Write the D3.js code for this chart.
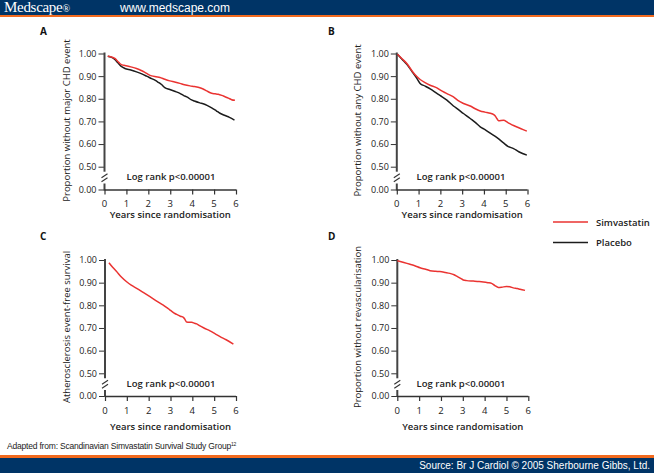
<!DOCTYPE html>
<html><head><meta charset="utf-8">
<script src="https://cdn.jsdelivr.net/npm/d3@7/dist/d3.min.js"></script>
<style>
body{margin:0;padding:0;background:#fff;}
svg{display:block;}
text{font-family:"Open Sans",sans-serif;}
</style></head>
<body>
<svg id="chart" width="654" height="473"></svg>
<script>
// ---------- DATA ----------
const seriesNames = ["Simvastatin", "Placebo"];
const xTicks = [0, 1, 2, 3, 4, 5, 6];
const yTicks = [0.00, 0.50, 0.60, 0.70, 0.80, 0.90, 1.00];
const panelLetters = ["A", "B", "C", "D"];
const yTitles = ["Proportion without major CHD event", "Proportion without any CHD event",
  "Atherosclerosis event-free survival", "Proportion without revascularisation"];
const xTitle = "Years since randomisation";
const pText = "Log rank p<0.00001";

// Panel A
const aSimYears = [0.15,0.3,0.47,0.6,0.7,0.8,0.93,1.2,1.46,1.7,1.92,2.15,2.35,2.53,2.75,2.98,3.2,3.44,3.65,3.9,4.1,4.35,4.5,4.66,4.89,5.05,5.19,5.35,5.5,5.65,5.8,5.95];
const aSimVals  = [0.988,0.985,0.978,0.966,0.956,0.950,0.947,0.941,0.934,0.924,0.912,0.901,0.897,0.894,0.886,0.879,0.874,0.868,0.862,0.857,0.854,0.849,0.843,0.835,0.824,0.822,0.820,0.815,0.809,0.803,0.796,0.793];
const aPlaYears = [0.15,0.3,0.47,0.6,0.75,0.93,1.2,1.46,1.7,1.92,2.15,2.3,2.45,2.6,2.75,2.98,3.2,3.44,3.6,3.8,3.95,4.1,4.35,4.5,4.7,4.89,5.1,5.27,5.5,5.7,5.93];
const aPlaVals  = [0.988,0.984,0.974,0.960,0.944,0.934,0.927,0.919,0.910,0.900,0.889,0.882,0.873,0.863,0.849,0.841,0.833,0.824,0.815,0.806,0.796,0.790,0.782,0.778,0.770,0.760,0.747,0.736,0.726,0.718,0.706];
// Panel B
const bSimYears = [0.03,0.25,0.46,0.7,0.92,1.07,1.3,1.53,1.84,2.0,2.3,2.6,2.8,3.06,3.37,3.6,3.83,4.05,4.29,4.45,4.52,4.6,4.67,4.9,5.1,5.36,5.6,5.8,5.97];
const bSimVals  = [0.997,0.976,0.956,0.923,0.898,0.885,0.871,0.860,0.848,0.838,0.823,0.808,0.793,0.779,0.768,0.756,0.746,0.741,0.736,0.730,0.724,0.712,0.703,0.705,0.695,0.682,0.672,0.664,0.657];
const bPlaYears = [0.03,0.25,0.46,0.7,0.92,1.07,1.3,1.53,1.84,2.0,2.3,2.6,2.8,3.06,3.37,3.6,3.83,4.05,4.29,4.6,4.9,5.1,5.36,5.6,5.8,5.97];
const bPlaVals  = [0.997,0.974,0.952,0.920,0.890,0.868,0.856,0.844,0.824,0.814,0.794,0.768,0.754,0.735,0.713,0.696,0.676,0.664,0.648,0.628,0.605,0.590,0.580,0.566,0.557,0.551];
// Panel C
const cSimYears = [0.18,0.35,0.53,0.75,0.99,1.2,1.45,1.75,2.06,2.35,2.67,2.85,2.98,3.15,3.28,3.45,3.59,3.66,3.74,3.85,3.97,4.1,4.2,4.35,4.55,4.81,5.05,5.27,5.55,5.88];
const cSimVals  = [0.988,0.968,0.949,0.925,0.904,0.889,0.875,0.857,0.838,0.820,0.801,0.789,0.779,0.767,0.760,0.752,0.747,0.738,0.726,0.725,0.725,0.721,0.718,0.709,0.699,0.687,0.674,0.662,0.648,0.629];
// Panel D
const dSimYears = [0.0,0.3,0.58,0.8,1.04,1.3,1.5,1.75,1.95,2.2,2.41,2.6,2.72,2.9,3.02,3.18,3.48,3.75,3.94,4.15,4.32,4.47,4.63,4.78,5.0,5.15,5.31,5.5,5.62,5.85];
const dSimVals  = [0.997,0.989,0.981,0.975,0.966,0.959,0.953,0.950,0.949,0.945,0.941,0.935,0.929,0.919,0.912,0.909,0.907,0.905,0.903,0.900,0.897,0.887,0.879,0.880,0.883,0.882,0.877,0.874,0.871,0.866];

// ---------- LAYOUT ----------
const svg = d3.select("#chart");
const navy = "#003466", orange = "#f26a1e";
const red = "#ea3331", black = "#1c1c1c";

// header
svg.append("rect").attr("x",0).attr("y",0).attr("width",654).attr("height",15).attr("fill",navy);
svg.append("rect").attr("x",0).attr("y",15).attr("width",654).attr("height",2).attr("fill",orange);
svg.append("text").attr("x",4).attr("y",12).attr("fill","#fff")
  .style("font-family","'Liberation Serif',serif").style("font-size","15px").style("letter-spacing","-0.3px")
  .text("Medscape").append("tspan").style("font-size","10px").text("®");
svg.append("text").attr("x",120).attr("y",12).attr("fill","#fff")
  .style("font-family","'Liberation Sans',Arial,sans-serif").style("font-size","12px").text("www.medscape.com");

// footer
svg.append("rect").attr("x",0).attr("y",455).attr("width",654).attr("height",3).attr("fill",orange);
svg.append("rect").attr("x",0).attr("y",458).attr("width",654).attr("height",15).attr("fill",navy);
svg.append("text").attr("x",650).attr("y",469).attr("text-anchor","end").attr("fill","#fff")
  .style("font-family","'Liberation Sans',Arial,sans-serif").style("font-size","10px")
  .text("Source: Br J Cardiol © 2005 Sherbourne Gibbs, Ltd.");
const ad = svg.append("text").attr("x",7).attr("y",449).attr("fill","#222")
  .style("font-family","'Liberation Sans',Arial,sans-serif").style("font-size","8.5px").style("letter-spacing","-0.2px")
  .text("Adapted from: Scandinavian Simvastatin Survival Study Group");
ad.append("tspan").attr("dy",-3).style("font-size","5px").text("12");

const panels = [
  {x0:104.5, x6:236, y100:53.5, y50:166.7, y0:189.5, lx:40, ly:35, ytx:66.5, tickY:203, titleY:218, pY:180, pX:171,
   series:[{years:aSimYears, vals:aSimVals, color:red},{years:aPlaYears, vals:aPlaVals, color:black}]},
  {x0:396.8, x6:527.5, y100:53.5, y50:166.7, y0:189.5, lx:328, ly:35, ytx:357, tickY:203, titleY:218, pY:180, pX:461,
   series:[{years:bSimYears, vals:bSimVals, color:red},{years:bPlaYears, vals:bPlaVals, color:black}]},
  {x0:105, x6:236, y100:260, y50:373.3, y0:396, lx:40, ly:240, ytx:66.5, tickY:410, titleY:430, pY:387, pX:171,
   series:[{years:cSimYears, vals:cSimVals, color:red}]},
  {x0:397.3, x6:528.3, y100:260, y50:373.3, y0:396, lx:328, ly:240, ytx:357, tickY:410, titleY:430, pY:387, pX:461,
   series:[{years:dSimYears, vals:dSimVals, color:red}]}
];

panels.forEach((p, i) => {
  const g = svg.append("g");
  const x = d3.scaleLinear().domain([0, 6]).range([p.x0, p.x6]);
  const y = d3.scaleLinear().domain([0, 0.5, 1.0]).range([p.y0, p.y50, p.y100]);

  g.append("text").attr("x", p.lx).attr("y", p.ly).style("font-size","10px").style("font-weight","700")
    .attr("fill","#111").text(panelLetters[i]);

  const yAxis = d3.axisLeft(y).tickValues(yTicks).tickFormat(d3.format(".2f")).tickSize(6).tickPadding(2);
  const ya = g.append("g").attr("transform",`translate(${p.x0},0)`).call(yAxis);
  ya.select(".domain").remove();
  ya.selectAll(".tick line").attr("stroke","#333").attr("stroke-width",1);
  ya.selectAll(".tick text").style("font-size","9px").style("font-family","'Open Sans',sans-serif").attr("fill","#222");
  g.append("line").attr("x1",p.x0).attr("x2",p.x0).attr("y1",y(1.0)-1).attr("y2",y(0.5)+5)
    .attr("stroke","#444").attr("stroke-width",2);
  g.append("line").attr("x1",p.x0).attr("x2",p.x0).attr("y1",y(0)-6).attr("y2",y(0)+1)
    .attr("stroke","#444").attr("stroke-width",2);
  const bm = y(0.5) + 11;
  [-2, 2].forEach(o => {
    g.append("line").attr("x1",p.x0-3).attr("x2",p.x0+3).attr("y1",bm+o+2).attr("y2",bm+o-2)
      .attr("stroke","#333").attr("stroke-width",1.1);
  });

  const xAxis = d3.axisBottom(x).tickValues(xTicks).tickFormat(d3.format("d")).tickSize(5).tickPadding(2);
  const xa = g.append("g").attr("transform",`translate(0,${p.y0})`).call(xAxis);
  xa.select(".domain").attr("stroke","#333").attr("stroke-width",1.5).attr("d",`M${p.x0},0.5H${p.x6}`);
  xa.selectAll(".tick line").attr("stroke","#333").attr("stroke-width",1.2);
  xa.selectAll(".tick text").remove();
  g.selectAll(".xtl").data(xTicks).enter().append("text")
    .attr("x", d => x(d)).attr("y", p.tickY).attr("text-anchor","middle").attr("dominant-baseline","central")
    .style("font-size","9.5px").attr("fill","#222").text(d => d);

  g.append("text").attr("x",(p.x0+p.x6)/2).attr("y",p.titleY).attr("text-anchor","middle")
    .style("font-size","9.5px").style("font-weight","600").attr("fill","#222").text(xTitle);
  g.append("text").attr("transform",`translate(${p.ytx},${(p.y100+p.y0)/2 - 1}) rotate(-90)`)
    .attr("text-anchor","middle").attr("dominant-baseline","central")
    .style("font-size","9.5px").attr("fill","#222").text(yTitles[i]);
  g.append("text").attr("x",p.pX).attr("y",p.pY).attr("text-anchor","middle")
    .style("font-size","9.5px").style("font-weight","600").attr("fill","#222").text(pText);

  const line = d3.line().x(d => x(d[0])).y(d => y(d[1])).curve(d3.curveMonotoneX);
  p.series.slice().reverse().forEach(s => {
    g.append("path").datum(d3.zip(s.years, s.vals)).attr("d", line)
      .attr("fill","none").attr("stroke", s.color).attr("stroke-width",1.5);
  });
});

// legend
const legY = [222, 242.5];
const legCol = [red, black];
seriesNames.forEach((n, i) => {
  svg.append("line").attr("x1",553).attr("x2",588).attr("y1",legY[i]).attr("y2",legY[i])
    .attr("stroke",legCol[i]).attr("stroke-width",1.6);
  svg.append("text").attr("x",596).attr("y",legY[i]).attr("dominant-baseline","central")
    .style("font-size","9.5px").style("font-weight","600").attr("fill","#222").text(n);
});
</script>
</body></html>
